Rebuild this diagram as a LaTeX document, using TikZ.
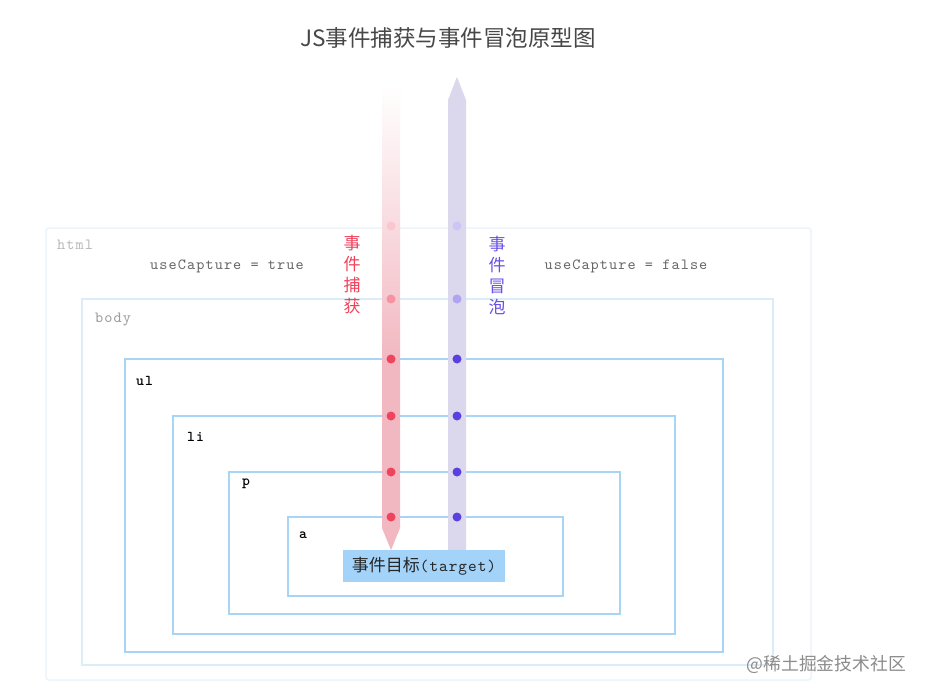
\documentclass[tikz,border=0pt]{standalone}
\usepackage{fontspec}
\newfontfamily\cjk{Noto Sans CJK SC}
\newfontfamily\monof{lmmono10-regular}[Extension=.otf, LetterSpace=7]
\newfontfamily\monot{lmmono10-regular}[Extension=.otf, LetterSpace=6]
\newfontfamily\monob{lmmonolt10-bold}[Extension=.otf, LetterSpace=7]
\definecolor{boxblue}{HTML}{A8D5F6}
\definecolor{bodyblue}{HTML}{DCEDFA}
\definecolor{htmlblue}{HTML}{EDF4FA}
\definecolor{capt}{HTML}{F2B8C1}
\definecolor{bub}{HTML}{DBD7EC}
\definecolor{capdot}{HTML}{F0435D}
\definecolor{bubdot}{HTML}{5B3FE0}
\definecolor{caplabel}{HTML}{F0405A}
\definecolor{bublabel}{HTML}{6A50E6}
\definecolor{targetfill}{HTML}{A3D3F8}
\tikzset{
  elbox/.style={draw=boxblue, line width=2.4pt},
  bodybox/.style={draw=bodyblue, line width=2pt},
  htmlbox/.style={draw=htmlblue, line width=1.5pt, rounded corners=3pt},
  monolbl/.style={inner sep=0pt, font=\monof\fontsize{15.5}{17}\selectfont},
  tag/.style={monolbl, anchor=west, text=black},
  btag/.style={inner sep=0pt, anchor=west, text=black, font=\monob\fontsize{15}{17}\selectfont},
  capdotst/.style={circle, fill=capdot, inner sep=0pt, minimum size=9pt},
  bubdotst/.style={circle, fill=bubdot, inner sep=0pt, minimum size=9pt},
  vlabel/.style={align=center, inner sep=0pt, font=\cjk\fontsize{17}{21}\selectfont}
}
\begin{document}
\begin{tikzpicture}[x=1pt,y=-1pt]
\useasboundingbox (0,0) rectangle (926,695);
\fill[white] (0,0) rectangle (926,695);

% title
\node[text=black!72, font=\cjk\fontsize{22.5}{26}\selectfont] (title) at (448,38) {JS事件捕获与事件冒泡原型图};

% nested boxes
\draw[htmlbox] (46,228) rectangle (811,680);
\draw[bodybox] (82,299) rectangle (773,665);
\draw[elbox] (125,359) rectangle (723,652);
\draw[elbox] (173,416) rectangle (675,634);
\draw[elbox] (229,472) rectangle (620,614);
\draw[elbox] (288,517) rectangle (563,596);

% box labels
\node[tag, text=black!28] (lhtml) at (57,245) {html};
\node[monolbl, text=black!60] (ltrue) at (227,266) {useCapture = true};
\node[monolbl, text=black!60] (lfalse) at (626,266) {useCapture = false};
\node[tag, text=black!40] (lbody) at (95,320) {body};
\node[btag] (lul) at (136,381) {ul};
\node[btag] (lli) at (187,437) {li};
\node[btag] (lp) at (242,484) {p};
\node[btag] (la) at (299,535) {a};

% capture arrow
\shade[top color=white, bottom color=capt] (382,85) rectangle (400,360);
\fill[capt] (382,359.5) -- (400,359.5) -- (400,528) -- (391,550) -- (382,528) -- cycle;
% bubble arrow
\fill[bub] (448,550) -- (448,100) -- (457,77) -- (466,100) -- (466,550) -- cycle;

% dots
\node[capdotst, fill=capdot!30] (c0) at (391,226) {};
\node[capdotst, fill=capdot!58] (c1) at (391,299) {};
\node[capdotst] (c2) at (391,359) {};
\node[capdotst] (c3) at (391,416) {};
\node[capdotst] (c4) at (391,472) {};
\node[capdotst] (c5) at (391,517) {};
\node[bubdotst, fill=bubdot!30] (b0) at (457,226) {};
\node[bubdotst, fill=bubdot!48] (b1) at (457,299) {};
\node[bubdotst] (b2) at (457,359) {};
\node[bubdotst] (b3) at (457,416) {};
\node[bubdotst] (b4) at (457,472) {};
\node[bubdotst] (b5) at (457,517) {};

% vertical labels
\node[vlabel, text=caplabel] (vcap) at (352,275) {事\\件\\捕\\获};
\node[vlabel, text=bublabel] (vbub) at (497,275) {事\\件\\冒\\泡};

% target
\node[fill=targetfill, minimum width=162pt, minimum height=32pt, inner sep=0pt, text=black!85] (target) at (424,566)
  {\cjk\fontsize{17}{20}\selectfont 事件目标\monot\fontsize{16.5}{18}\selectfont(target)};

% watermark
\node[anchor=east, text=black!45, inner sep=0pt, font=\cjk\fontsize{17.8}{20}\selectfont] (wm) at (906,664) {@稀土掘金技术社区};
\end{tikzpicture}
\end{document}
